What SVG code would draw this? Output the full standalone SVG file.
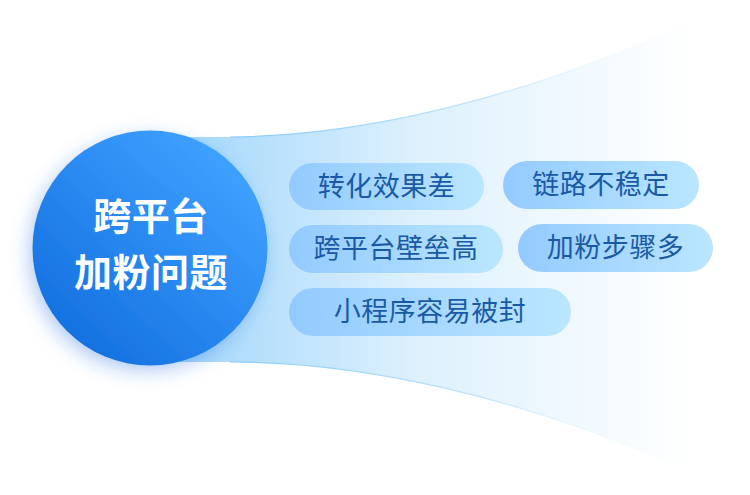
<svg xmlns="http://www.w3.org/2000/svg" width="750" height="495" viewBox="0 0 750 495">
<defs>
<linearGradient id="beam" x1="180" y1="0" x2="690" y2="0" gradientUnits="userSpaceOnUse">
<stop offset="0" stop-color="#a3d7fb"/>
<stop offset="0.45" stop-color="#dcf0fd"/>
<stop offset="1" stop-color="#ffffff"/>
</linearGradient>
<linearGradient id="edge" x1="180" y1="0" x2="690" y2="0" gradientUnits="userSpaceOnUse">
<stop offset="0" stop-color="#7cc8f8"/>
<stop offset="0.6" stop-color="#bfe3fb"/>
<stop offset="1" stop-color="#ffffff" stop-opacity="0"/>
</linearGradient>
<linearGradient id="ball" x1="0.85" y1="0.15" x2="0.15" y2="0.9">
<stop offset="0" stop-color="#3ea0ff"/>
<stop offset="1" stop-color="#1470e0"/>
</linearGradient>
<linearGradient id="pill" x1="0" y1="0" x2="1" y2="0">
<stop offset="0" stop-color="#93caff"/>
<stop offset="1" stop-color="#bae6ff"/>
</linearGradient>
<filter id="glow" x="-30%" y="-30%" width="160%" height="160%">
<feDropShadow dx="-4" dy="6" stdDeviation="9" flood-color="#2a6fe0" flood-opacity="0.35"/>
</filter>
</defs>
<style>
.pill{fill:url(#pill)}
.pt{font-family:"Noto Sans CJK SC","Noto Sans CJK TC",sans-serif;font-size:27px;font-weight:400;fill:#1a5aa5;text-anchor:middle;letter-spacing:0.5px}
.ct{font-family:"Noto Sans CJK SC","Noto Sans CJK TC",sans-serif;font-size:38px;font-weight:bold;fill:#ffffff;text-anchor:middle;letter-spacing:0.5px}
</style>
<rect width="750" height="495" fill="#ffffff"/>
<g id="beam-shape">
<path d="M150 137 L230 137 C360 136 520 100 690 22 L690 472 C520 395 360 362 230 362 L150 362 Z" fill="url(#beam)"/>
<path d="M230 137 C360 136 520 100 690 22" fill="none" stroke="url(#edge)" stroke-width="1.2"/>
<path d="M230 362 C360 362 520 395 690 472" fill="none" stroke="url(#edge)" stroke-width="1.2"/>
</g>
<g id="center">
<circle cx="150" cy="248" r="117.5" fill="url(#ball)" filter="url(#glow)"/>
<text class="ct" x="151" y="230">跨平台</text>
<text class="ct" x="151" y="286">加粉问题</text>
</g>
<g id="connectors"></g>
<g id="n1"><rect class="pill" x="289" y="163" width="195" height="47" rx="23.5"/><text class="pt" x="386.5" y="196">转化效果差</text></g>
<g id="n2"><rect class="pill" x="503" y="161" width="196" height="48" rx="24"/><text class="pt" x="601" y="194">链路不稳定</text></g>
<g id="n3"><rect class="pill" x="289" y="225" width="214" height="48" rx="24"/><text class="pt" x="396" y="258">跨平台壁垒高</text></g>
<g id="n4"><rect class="pill" x="518" y="224" width="195" height="48" rx="24"/><text class="pt" x="615.5" y="257">加粉步骤多</text></g>
<g id="n5"><rect class="pill" x="289" y="288" width="282" height="48" rx="24"/><text class="pt" x="430" y="321">小程序容易被封</text></g>
</svg>
